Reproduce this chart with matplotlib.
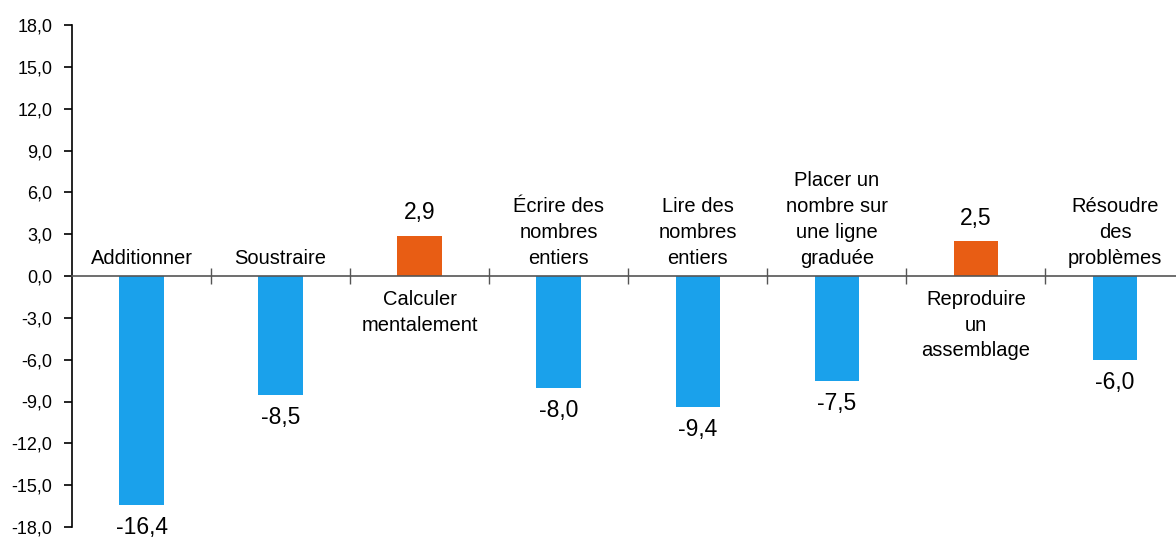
import numpy as np
import matplotlib.pyplot as plt
from matplotlib.ticker import FuncFormatter

plt.rcParams['font.family'] = ['Liberation Sans', 'DejaVu Sans']

categories = ["Additionner", "Soustraire", "Calculer\nmentalement",
              "Écrire des\nnombres\nentiers", "Lire des\nnombres\nentiers",
              "Placer un\nnombre sur\nune ligne\ngraduée",
              "Reproduire\nun\nassemblage", "Résoudre\ndes\nproblèmes"]
values = [-16.4, -8.5, 2.9, -8.0, -9.4, -7.5, 2.5, -6.0]

blue = "#1AA1EB"
orange = "#E85D14"

fig = plt.figure(figsize=(11.76, 5.39), dpi=100)
ax = fig.add_axes([72/1176, 12/539, 1112.5/1176, 502/539])

x = np.arange(len(values))
colors = [orange if v > 0 else blue for v in values]
ax.bar(x, values, width=0.32, color=colors, zorder=2)

ax.set_xlim(-0.5, 7.5)
ax.set_ylim(-18, 18)
ax.set_yticks(np.arange(-18, 18.1, 3))
ax.yaxis.set_major_formatter(FuncFormatter(lambda v, p: f"{v:.1f}".replace(".", ",")))
ax.tick_params(axis='y', labelsize=13, length=6, width=1.2, direction='out', pad=8)

ax.spines['top'].set_visible(False)
ax.spines['right'].set_visible(False)
ax.spines['left'].set_linewidth(1.2)
ax.spines['bottom'].set_position(('data', 0))
ax.spines['bottom'].set_color('#555555')
ax.spines['bottom'].set_linewidth(1.2)
ax.set_xticks(np.arange(0.5, 7.5, 1))
ax.set_xticklabels([])
ax.tick_params(axis='x', direction='inout', length=12, width=1, color='#555555')

for i, (lab, v) in enumerate(zip(categories, values)):
    txt = f"{v:.1f}".replace(".", ",")
    if v < 0:
        ax.annotate(lab, (i, 0), xytext=(0, 6), textcoords='offset points',
                    ha='center', va='bottom', fontsize=14.5, linespacing=1.45)
        ax.annotate(txt, (i, v), xytext=(0, -8), textcoords='offset points',
                    ha='center', va='top', fontsize=16.5)
    else:
        ax.annotate(lab, (i, 0), xytext=(0, -10), textcoords='offset points',
                    ha='center', va='top', fontsize=14.5, linespacing=1.45)
        ax.annotate(txt, (i, v), xytext=(0, 8), textcoords='offset points',
                    ha='center', va='bottom', fontsize=16.5)

fig.savefig("out.png", dpi=100)
